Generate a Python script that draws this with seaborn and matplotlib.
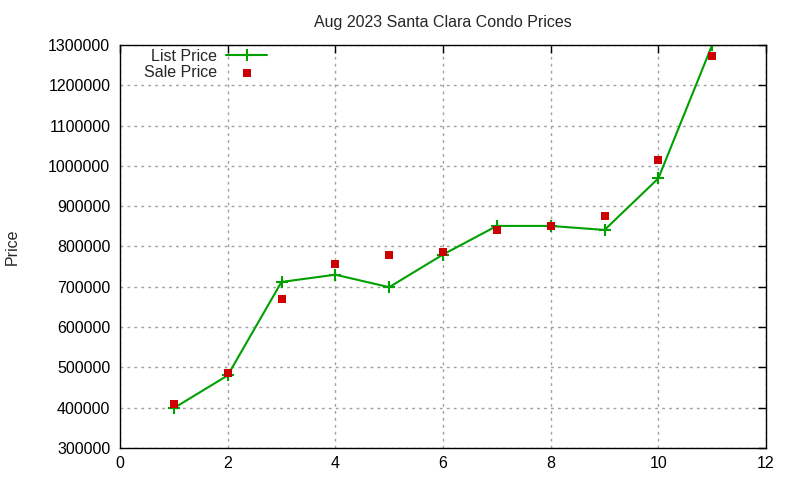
import matplotlib
matplotlib.use("Agg")
import matplotlib.pyplot as plt
import seaborn as sns
import pandas as pd

months = [1, 2, 3, 4, 5, 6, 7, 8, 9, 10, 11]
list_price = [399000, 480000, 712000, 730000, 699000, 780000, 851000, 851000, 841000, 969000, 1300000]
sale_price = [410000, 487000, 669000, 757000, 780000, 786000, 841000, 850000, 875000, 1015000, 1273000]
title = "Aug 2023 Santa Clara Condo Prices"
y_label = "Price"
x_ticks = [0, 2, 4, 6, 8, 10, 12]
y_ticks = [300000, 400000, 500000, 600000, 700000, 800000, 900000, 1000000, 1100000, 1200000, 1300000]

df = pd.DataFrame({"x": months, "list": list_price, "sale": sale_price})

sns.set_style("white")
plt.rcParams["font.family"] = ["Liberation Sans", "DejaVu Sans"]

fig = plt.figure(figsize=(8, 4.8), dpi=100)
ax = fig.add_axes([0.15, 0.0667, 0.8075, 0.8396])

green = "#00a000"
red = "#cc0000"
sns.lineplot(data=df, x="x", y="list", ax=ax, color=green, linewidth=1.5,
             marker="+", markersize=9, markeredgewidth=1.5,
             markeredgecolor=green, markerfacecolor=green, label="List Price")
sns.scatterplot(data=df, x="x", y="sale", ax=ax, color=red, marker="s",
                s=40, linewidth=0, label="Sale Price", zorder=3)

ax.set_xlim(0, 12)
ax.set_ylim(300000, 1300000)
ax.set_xticks(x_ticks)
ax.set_yticks(y_ticks)
ax.set_xticklabels([str(t) for t in x_ticks])
ax.set_yticklabels([str(t) for t in y_ticks])
ax.tick_params(direction="in", length=6, width=1, top=True, right=True,
               labelsize=11.5, colors="black", pad=6)
ax.tick_params(axis="y", pad=7)
ax.grid(True, color="#a0a0a0", linestyle=(0, (2, 3)), linewidth=1)
for s in ax.spines.values():
    s.set_color("black")
    s.set_linewidth(1)
ax.set_xlabel("")
ax.set_ylabel(y_label, fontsize=11.5)
ax.yaxis.set_label_coords(-0.155, 0.5)
ax.set_title(title, fontsize=11.5, pad=13)

leg = ax.legend(loc="upper right", bbox_to_anchor=(0.228, 0.99), frameon=False,
                markerfirst=False, fontsize=11.5, handlelength=2.6,
                labelspacing=0.05, handletextpad=0.55, borderaxespad=0.0,
                borderpad=0.0)

fig.savefig("out.png", dpi=100)
